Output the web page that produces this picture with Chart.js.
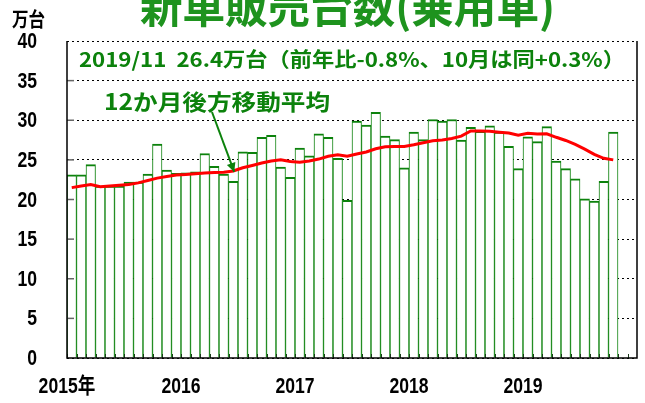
<!DOCTYPE html>
<html>
<head>
<meta charset="utf-8">
<script src="https://cdn.jsdelivr.net/npm/chart.js@4/dist/chart.umd.min.js"></script>
<style>
html,body{margin:0;padding:0;background:#fff;}
#wrap{width:645px;height:403px;position:relative;}
</style>
</head>
<body>
<div id="wrap"><canvas id="c" width="645" height="403"></canvas></div>
<script>
// ---- data ----
const months = [];
for (let y = 2015; y <= 2019; y++) for (let m = 1; m <= 12; m++) months.push(y + '/' + m);

const sales = [
  23.1, 23.1, 24.4, 21.7, 21.7, 21.7, 22.2, 22.2, 23.2, 27.0, 23.7, 23.3,
  23.35, 23.5, 25.8, 24.2, 23.2, 22.3, 26.0, 25.95, 27.85, 28.1, 24.1, 22.8,
  26.5, 25.5, 28.3, 27.85, 25.2, 19.9, 29.9, 29.4, 31.0, 28.0, 27.55, 24.0,
  28.5, 27.55, 30.1, 29.9, 30.1, 27.5, 29.1, 28.6, 29.3, 28.5, 26.7, 23.9,
  27.9, 27.3, 29.2, 24.85, 23.9, 22.6, 20.1, 19.8, 22.3, 28.5
];

const movingAvg = [
  21.5, 21.7, 21.9, 21.6, 21.7, 21.8, 21.9, 22.1, 22.4, 22.7, 22.9, 23.1,
  23.15, 23.25, 23.35, 23.4, 23.45, 23.6, 24.0, 24.3, 24.6, 24.85, 25.0, 24.8,
  24.7, 24.85, 25.1, 25.45, 25.65, 25.45, 25.75, 26.0, 26.4, 26.65, 26.7, 26.7,
  26.9, 27.15, 27.4, 27.5, 27.7, 28.0, 28.65, 28.65, 28.6, 28.5, 28.4, 28.1,
  28.35, 28.25, 28.3, 27.85, 27.45, 26.95, 26.35, 25.7, 25.2, 25.0
];

const yearLabels = ['2015年', '2016', '2017', '2018', '2019'];
const yearTickValues = [0, 12, 24, 36, 48];

const titleText = '新車販売台数(乗用車)';
const unitText = '万台';
const noteText = '2019/11  26.4万台（前年比-0.8%、10月は同+0.3%）';
const maLabelText = '12か月後方移動平均';

// ---- styles ----
const GREEN = '#0c820c';
const TITLE_GREEN = '#1e931e';
const NUM_FONT = 'bold 22px "Liberation Sans", "Noto Sans CJK JP", sans-serif';
const JP_FONT = '"Noto Sans CJK JP", sans-serif';

function fitText(ctx, text, x, y, width, font, color) {
  ctx.save();
  ctx.font = font;
  ctx.textAlign = 'left';
  ctx.textBaseline = 'alphabetic';
  const w = ctx.measureText(text).width;
  ctx.translate(x, y);
  ctx.scale(width / w, 1);
  ctx.fillStyle = color;
  ctx.fillText(text, 0, 0);
  ctx.restore();
}

function narrowText(ctx, text, x, y, align, sx) {
  ctx.save();
  ctx.font = NUM_FONT;
  ctx.textAlign = align;
  ctx.textBaseline = 'middle';
  ctx.fillStyle = '#000';
  ctx.translate(x, y);
  ctx.scale(sx, 1);
  ctx.fillText(text, 0, 0);
  ctx.restore();
}

const decor = {
  id: 'decor',
  afterDatasetsDraw(chart) {
    const ctx = chart.ctx;
    const a = chart.chartArea;
    const xs = chart.scales.xYear;
    const ys = chart.scales.y;
    ctx.save();
    // inner tick marks on bottom axis
    ctx.strokeStyle = '#1a3a1a';
    ctx.lineWidth = 1;
    for (let k = 0; k <= 59; k++) {
      const px = Math.round(xs.getPixelForValue(k)) + 0.5;
      ctx.beginPath(); ctx.moveTo(px, a.bottom); ctx.lineTo(px, a.bottom - 4); ctx.stroke();
    }
    // inner tick marks on left axis
    ctx.strokeStyle = '#666';
    ctx.lineWidth = 1.5;
    for (let v = 5; v < 40; v += 5) {
      const py = ys.getPixelForValue(v);
      ctx.beginPath(); ctx.moveTo(a.left, py); ctx.lineTo(a.left + 7, py); ctx.stroke();
    }
    // frame: left, bottom, right
    ctx.strokeStyle = '#000';
    ctx.lineWidth = 1.5;
    ctx.beginPath();
    ctx.moveTo(a.left, a.top); ctx.lineTo(a.left, a.bottom);
    ctx.lineTo(a.right, a.bottom); ctx.lineTo(a.right, a.top);
    ctx.stroke();

    // axis tick labels (from the library's scales)
    ys.ticks.forEach(t => {
      narrowText(ctx, String(t.value), a.left - 30, ys.getPixelForValue(t.value) + 1, 'right', 0.8);
    });
    xs.ticks.forEach((t, i) => {
      narrowText(ctx, yearLabels[i], xs.getPixelForValue(t.value), a.bottom + 29, 'center', 0.8);
    });

    // texts
    fitText(ctx, titleText, 140, 23, 415, 'bold 44px ' + JP_FONT, TITLE_GREEN);
    fitText(ctx, unitText, 12, 27, 33, 'bold 20px ' + JP_FONT, '#000');
    fitText(ctx, noteText, 79, 67, 546, 'bold 20px ' + JP_FONT, GREEN);
    fitText(ctx, maLabelText, 104, 110, 226, 'bold 22px ' + JP_FONT, GREEN);

    // arrow to the moving average line
    const x1 = 212, y1 = 112;
    const x2 = xs.getPixelForValue(17.5) + 1, y2 = ys.getPixelForValue(movingAvg[17]) + 1;
    ctx.strokeStyle = GREEN; ctx.fillStyle = GREEN; ctx.lineWidth = 2;
    ctx.beginPath(); ctx.moveTo(x1, y1); ctx.lineTo(x2, y2); ctx.stroke();
    const ang = Math.atan2(y2 - y1, x2 - x1);
    const L = 9, W = 4.5;
    ctx.beginPath();
    ctx.moveTo(x2, y2);
    ctx.lineTo(x2 - L * Math.cos(ang) + W * Math.sin(ang), y2 - L * Math.sin(ang) - W * Math.cos(ang));
    ctx.lineTo(x2 - L * Math.cos(ang) - W * Math.sin(ang), y2 - L * Math.sin(ang) + W * Math.cos(ang));
    ctx.closePath(); ctx.fill();
    ctx.restore();
  }
};

new Chart(document.getElementById('c'), {
  type: 'bar',
  data: {
    labels: months,
    datasets: [
      {
        type: 'line',
        data: movingAvg,
        borderColor: '#ff0000',
        borderWidth: 3,
        pointRadius: 0,
        tension: 0,
        fill: false,
        order: 0
      },
      {
        type: 'bar',
        data: sales,
        backgroundColor: '#ffffff',
        borderColor: GREEN,
        borderWidth: { top: 2, left: 1, right: 1, bottom: 0 },
        borderSkipped: 'start',
        barPercentage: 1,
        categoryPercentage: 1,
        order: 1
      }
    ]
  },
  options: {
    responsive: false,
    animation: false,
    events: [],
    layout: { padding: { top: 41, right: 8, left: 0, bottom: 0 } },
    plugins: { legend: { display: false }, tooltip: { enabled: false }, title: { display: false } },
    scales: {
      x: { type: 'category', display: false, offset: true },
      xYear: {
        type: 'linear', position: 'bottom', min: 0, max: 60, offset: false,
        afterBuildTicks: s => { s.ticks = yearTickValues.map(v => ({ value: v })); },
        ticks: { display: false },
        grid: { display: false, drawTicks: false, offset: false },
        border: { display: false },
        afterFit: s => { s.height = 45; }
      },
      y: {
        min: 0, max: 40,
        ticks: { stepSize: 5, display: false },
        grid: { color: '#000', lineWidth: 1, drawTicks: false },
        border: { display: false, dash: [2, 3] },
        afterFit: s => { s.width = 67; }
      }
    }
  },
  plugins: [decor]
});
</script>
</body>
</html>
